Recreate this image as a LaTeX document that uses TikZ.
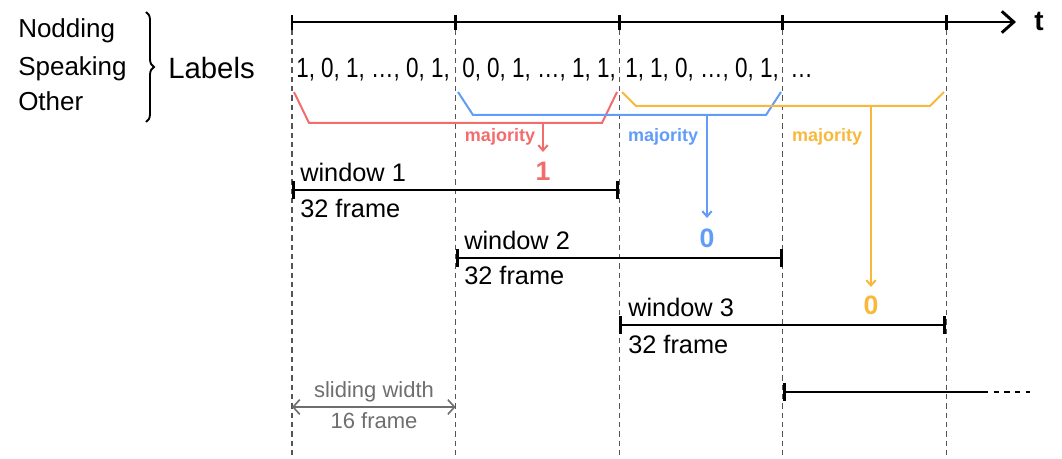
\documentclass[tikz,border=0pt]{standalone}
\usepackage{fontspec}
\setmainfont{Liberation Sans}
\usetikzlibrary{arrows.meta,decorations.pathreplacing}

\definecolor{votered}{RGB}{242,108,108}
\definecolor{voteblue}{RGB}{96,156,248}
\definecolor{voteorange}{RGB}{248,184,60}
\definecolor{guide}{RGB}{85,85,85}
\definecolor{slidegray}{RGB}{110,110,110}

% sequences of per-frame labels, set a little narrower
\newcommand{\seqrow}[1]{\scalebox{0.81}[1]{#1}}

\begin{document}
\begin{tikzpicture}[x=0.75pt,y=-0.75pt,
  guideline/.style={draw=guide, line width=0.8pt, dash pattern=on 4pt off 3pt},
  rule/.style={draw=black, line width=2.2pt},
  endbar/.style={Bar[width=13pt]},
  winrule/.style={rule, {Bar[width=13pt]}-{Bar[width=13pt]}},
  seqtext/.style={anchor=base west, inner sep=0pt, font=\fontsize{20.8}{24}\selectfont},
  wintext/.style={anchor=base west, inner sep=0pt, font=\fontsize{19}{23}\selectfont},
  voteline/.style={line width=1.5pt, line join=miter},
  votearrow/.style={line width=1.5pt, -{Straight Barb[length=4pt,width=7pt]}},
  votetext/.style={anchor=base, inner sep=0pt, font=\bfseries\fontsize{13.5}{16}\selectfont},
  resulttext/.style={anchor=base, inner sep=0pt, font=\bfseries\fontsize{20}{24}\selectfont},
  classtext/.style={anchor=base west, inner sep=0pt, font=\fontsize{19.5}{22}\selectfont},
  slidetext/.style={anchor=base, inner sep=0pt, text=slidegray, font=\fontsize{16.5}{20}\selectfont},
]
\useasboundingbox (0,0) rectangle (1062,459);

% frame boundaries on the time axis
\foreach \i/\x in {0/292,1/455.6,2/619.2,3/782.8,4/946.4}{
  \coordinate (tk\i) at (\x,15);
  \coordinate (tb\i) at (\x,30);
  \coordinate (gb\i) at (\x,459);
}
\foreach \i in {0,...,4}{
  \draw[guideline] (tb\i) -- (gb\i);
  \draw[rule] (tk\i) -- (tb\i);
}

% time axis
\coordinate (axstart) at (292,22);
\coordinate (axend) at (1016,22);
\draw[rule, -{Straight Barb[length=9pt,width=16pt]}] (axstart) -- (axend);
\node[inner sep=0pt, font=\bfseries\fontsize{21}{24}\selectfont] (t) at (1039,21) {t};

% label classes
\node[classtext] (nod) at (18,38) {Nodding};
\node[classtext] (spk) at (18,76) {Speaking};
\node[classtext] (oth) at (18,111) {Other};
\coordinate (brtop) at (146,12);
\coordinate (brbot) at (146,122);
\draw[line width=1.4pt, decorate, decoration={brace, amplitude=6pt}] (brtop) -- (brbot);
\node[anchor=base west, inner sep=0pt, font=\fontsize{22}{26}\selectfont] (lab) at (168,79) {Labels};

% per-frame labels
\node[seqtext] (s1) at (296,78) {\seqrow{1, 0, 1, …, 0, 1,}};
\node[seqtext] (s2) at (462,78) {\seqrow{0, 0, 1, …, 1, 1,}};
\node[seqtext] (s3) at (625,78) {\seqrow{1, 1, 0, …, 0, 1,}};
\node[seqtext] (s4) at (790,78) {\seqrow{…}};

% majority votes over each window
\coordinate (r1) at (294,92);  \coordinate (r2) at (309,123);
\coordinate (r3) at (602,123); \coordinate (r4) at (617,92);
\coordinate (rs) at (543,123); \coordinate (re) at (543,152);
\draw[voteline, votered] (r1) -- (r2) -- (r3) -- (r4);
\draw[votearrow, votered] (rs) -- (re);
\node[votetext, text=votered] (rv) at (500,142) {majority};
\node[resulttext, text=votered] (rres) at (543,181) {1};

\coordinate (b1) at (458,92);  \coordinate (b2) at (473,115);
\coordinate (b3) at (766,115); \coordinate (b4) at (781,92);
\coordinate (bs) at (707,115); \coordinate (be) at (707,218);
\draw[voteline, voteblue] (b1) -- (b2) -- (b3) -- (b4);
\draw[votearrow, voteblue] (bs) -- (be);
\node[votetext, text=voteblue] (bv) at (663,142) {majority};
\node[resulttext, text=voteblue] (bres) at (707,248) {0};

\coordinate (o1) at (622,92);  \coordinate (o2) at (636,106);
\coordinate (o3) at (930,106); \coordinate (o4) at (944,92);
\coordinate (os) at (871,106); \coordinate (oe) at (871,287);
\draw[voteline, voteorange] (o1) -- (o2) -- (o3) -- (o4);
\draw[votearrow, voteorange] (os) -- (oe);
\node[votetext, text=voteorange] (ov) at (827,142) {majority};
\node[resulttext, text=voteorange] (ores) at (871,315) {0};

% windows
\coordinate (w1a) at (292,190);   \coordinate (w1b) at (619.2,190);
\coordinate (w2a) at (455.6,258); \coordinate (w2b) at (782.8,258);
\coordinate (w3a) at (619.2,325); \coordinate (w3b) at (946.4,325);
\draw[winrule] (w1a) -- (w1b);
\draw[winrule] (w2a) -- (w2b);
\draw[winrule] (w3a) -- (w3b);
\node[wintext] (w1t) at (300,182) {window 1};
\node[wintext] (w1f) at (300,218) {32 frame};
\node[wintext] (w2t) at (464,250) {window 2};
\node[wintext] (w2f) at (464,285) {32 frame};
\node[wintext] (w3t) at (628,316) {window 3};
\node[wintext] (w3f) at (628,353) {32 frame};

% next window, continuing
\coordinate (w4a) at (782.8,392); \coordinate (w4b) at (983,392);
\coordinate (w4c) at (1030,392);
\draw[rule, {Bar[width=13pt]}-] (w4a) -- (w4b);
\draw[rule, dash pattern=on 4pt off 4pt] (w4b) -- (w4c);

% sliding width
\coordinate (sla) at (292,407); \coordinate (slb) at (455.6,407);
\draw[slidegray, line width=1.2pt, {Straight Barb[length=5pt,width=11pt]}-{Straight Barb[length=5pt,width=11pt]}] (sla) -- (slb);
\node[slidetext] (slw) at (374,397) {sliding width};
\node[slidetext] (slf) at (374,428) {16 frame};
\end{tikzpicture}
\end{document}
